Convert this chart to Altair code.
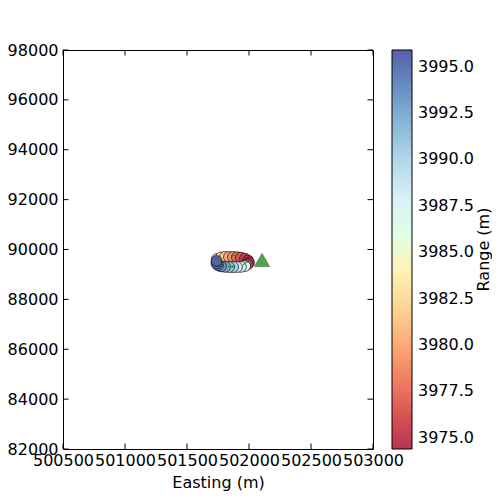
import altair as alt
import pandas as pd
import numpy as np

# ---- data ----
easting = [501742, 501774, 501806, 501839, 501871, 501903, 501935, 501968, 501992, 502000, 501988,
           501968, 501935, 501903, 501871, 501839, 501806, 501774, 501750, 501738, 501738]
northing = [3889619, 3889679, 3889699, 3889699, 3889699, 3889691, 3889671, 3889627, 3889559, 3889479, 3889399,
            3889338, 3889306, 3889298, 3889298, 3889298, 3889306, 3889326, 3889370, 3889439, 3889539]
range_m = [3985.0, 3983.5, 3981.5, 3980.0, 3978.8, 3977.5, 3976.3, 3975.3, 3974.6, 3974.4, 3975.0,
           3987.0, 3988.0, 3989.0, 3990.2, 3991.3, 3992.5, 3993.6, 3994.8, 3995.6, 3995.9]

source_e = [502105]
source_n = [3889579]

arrow_e = [501766, 501863, 501879, 501976]
arrow_n = [3889539, 3889318, 3889759, 3889479]
arrow_dir = [330, 90, 270, 45]

x_ticks = [500500, 501000, 501500, 502000, 502500, 503000]
y_ticks = [3882000, 3884000, 3886000, 3888000, 3890000, 3892000, 3894000, 3896000, 3898000]
cbar_ticks = [3975.0, 3977.5, 3980.0, 3982.5, 3985.0, 3987.5, 3990.0, 3992.5, 3995.0]
cbar_title = "Range (m)"

# ---- styling ----
W, H = 310, 399
FONT = "DejaVu Sans"
TICK = 5.5

pts = pd.DataFrame({"easting": easting, "northing": northing, "range": range_m})
src = pd.DataFrame({"easting": source_e, "northing": source_n})
arr = pd.DataFrame({"easting": arrow_e, "northing": arrow_n, "dir": arrow_dir})
xt = pd.DataFrame({"easting": x_ticks})
yt = pd.DataFrame({"northing": y_ticks})

xs = alt.Scale(domain=[500500, 503000], nice=False, zero=False)
ys = alt.Scale(domain=[3882000, 3898000], nice=False, zero=False)

# RdYlBu blended with white at alpha 0.8
cols = ["#b73351", "#df5952", "#f68a69", "#fdbe81", "#fee6a6", "#ffffcc",
        "#e6f5f9", "#bce1ed", "#90bdda", "#6a91c3", "#5a5eaa"]
cdom = list(np.linspace(3974.4, 3995.9, len(cols)))
cs = alt.Scale(domain=cdom, range=cols, nice=False, zero=False)

x_axis = alt.Axis(values=x_ticks, format="d", labelOverlap=False, labelFlush=False,
                  ticks=False, domain=False, grid=False, labelFontSize=16, labelPadding=3,
                  title="Easting (m)", titleFontSize=16, titleFontWeight="normal",
                  titlePadding=6, labelColor="black", titleColor="black")
y_axis = alt.Axis(values=y_ticks, format="d", labelOverlap=False, labelFlush=False,
                  ticks=False, domain=False, grid=False, labelFontSize=16, labelPadding=5,
                  title=None, labelColor="black")

legend = alt.Legend(title=None, orient="none", legendX=W + 19, legendY=0, direction="vertical",
                    gradientLength=H, gradientThickness=20, gradientStrokeColor="black",
                    gradientStrokeWidth=1, values=cbar_ticks, format=".1f", labelFontSize=16,
                    labelOffset=6, labelColor="black", labelOverlap=False, padding=0)

points = alt.Chart(pts).mark_point(
    filled=True, shape="circle", size=120, stroke="black", strokeWidth=0.8,
    strokeOpacity=0.8, opacity=1
).encode(
    x=alt.X("easting:Q", scale=xs, axis=x_axis),
    y=alt.Y("northing:Q", scale=ys, axis=y_axis),
    color=alt.Color("range:Q", scale=cs, legend=legend),
)

arrows = alt.Chart(arr).mark_point(
    filled=True, shape="arrow", size=60, color="#1f8a1f", opacity=0.9
).encode(
    x=alt.X("easting:Q", scale=xs),
    y=alt.Y("northing:Q", scale=ys),
    angle=alt.Angle("dir:Q", scale=None),
)

source = alt.Chart(src).mark_point(
    filled=True, shape="triangle-up", size=230, color="#2f962f", opacity=0.85,
    stroke="#1a4d1a", strokeWidth=0.6
).encode(
    x=alt.X("easting:Q", scale=xs),
    y=alt.Y("northing:Q", scale=ys),
)

tick_style = dict(color="black", strokeWidth=1)
xb = alt.Chart(xt).mark_rule(**tick_style).encode(
    x=alt.X("easting:Q", scale=xs), y=alt.value(H), y2=alt.value(H - TICK))
xtop = alt.Chart(xt).mark_rule(**tick_style).encode(
    x=alt.X("easting:Q", scale=xs), y=alt.value(0), y2=alt.value(TICK))
yl = alt.Chart(yt).mark_rule(**tick_style).encode(
    y=alt.Y("northing:Q", scale=ys), x=alt.value(0), x2=alt.value(TICK))
yr = alt.Chart(yt).mark_rule(**tick_style).encode(
    y=alt.Y("northing:Q", scale=ys), x=alt.value(W), x2=alt.value(W - TICK))

title_txt = alt.Chart(pd.DataFrame({"t": [cbar_title]})).mark_text(
    angle=270, fontSize=16, color="black", align="center", baseline="middle"
).encode(text="t:N", x=alt.value(421), y=alt.value(H / 2))

chart = alt.layer(points, arrows, source, xb, xtop, yl, yr, title_txt).properties(
    width=W, height=H,
    autosize=alt.AutoSizeParams(type="none"),
    padding={"left": 55, "top": 42, "right": 119, "bottom": 43},
).configure(font=FONT).configure_view(
    stroke="black", strokeWidth=1
).configure_legend(gradientVerticalMaxLength=H)

chart.save("out.html", embed_options={"renderer": "svg", "actions": False})
